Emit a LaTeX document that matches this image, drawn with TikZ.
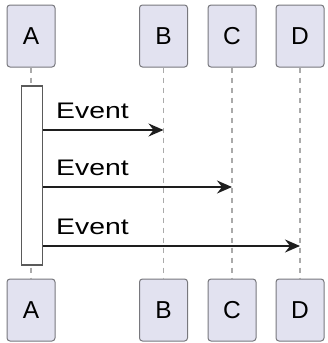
\documentclass[tikz,border=0pt]{standalone}
\usepackage{fontspec}
\setmainfont{Liberation Sans}
\usetikzlibrary{arrows.meta}
\definecolor{boxfill}{RGB}{226,226,240}
\definecolor{boxline}{RGB}{120,120,125}
\definecolor{lifecol}{RGB}{170,170,170}
\definecolor{actline}{RGB}{90,90,90}
\definecolor{msgcol}{RGB}{30,30,30}
\tikzset{
  participant/.style={draw=boxline, line width=1pt, fill=boxfill, rounded corners=3pt,
    minimum width=48pt, minimum height=62pt, inner sep=0pt,
    font=\fontsize{24.5}{24.5}\selectfont},
  lifeline/.style={draw=lifecol, line width=1.2pt, dash pattern=on 5pt off 5pt},
  activation/.style={draw=actline, line width=1.6pt, fill=white, inner sep=0pt,
    minimum width=21pt, minimum height=179pt},
  message/.style={draw=msgcol, line width=1.6pt, -{Stealth[length=15pt,width=13pt,inset=5pt]}},
  msglabel/.style={anchor=base west, inner sep=0pt, font=\fontsize{22.5}{22.5}\selectfont}
}
\begin{document}
\begin{tikzpicture}[x=1pt,y=-1pt]
\useasboundingbox (0,0) rectangle (327,343);
% participants
\node[participant] (At) at (31,36) {A};
\node[participant] (Bt) at (163.5,36) {B};
\node[participant] (Ct) at (232,36) {C};
\node[participant] (Dt) at (300,36) {D};
\node[participant] (Ab) at (31,310) {A};
\node[participant] (Bb) at (163.5,310) {B};
\node[participant] (Cb) at (232,310) {C};
\node[participant] (Db) at (300,310) {D};
% lifelines
\draw[lifeline] (At.south) -- (Ab.north);
\draw[lifeline] (Bt.south) -- (Bb.north);
\draw[lifeline] (Ct.south) -- (Cb.north);
\draw[lifeline] (Dt.south) -- (Db.north);
% activation
\node[activation] (act) at (32,175.5) {};
% message targets
\coordinate (mB) at (163.5,130);
\coordinate (mC) at (232,187);
\coordinate (mD) at (300,246);
\draw[message] (act.east |- mB) -- (mB);
\draw[message] (act.east |- mC) -- (mC);
\draw[message] (act.east |- mD) -- (mD);
\node[msglabel] (l1) at (56,118) {\scalebox{1.26}[1]{Event}};
\node[msglabel] (l2) at (56,175) {\scalebox{1.26}[1]{Event}};
\node[msglabel] (l3) at (56,234) {\scalebox{1.26}[1]{Event}};
\end{tikzpicture}
\end{document}
